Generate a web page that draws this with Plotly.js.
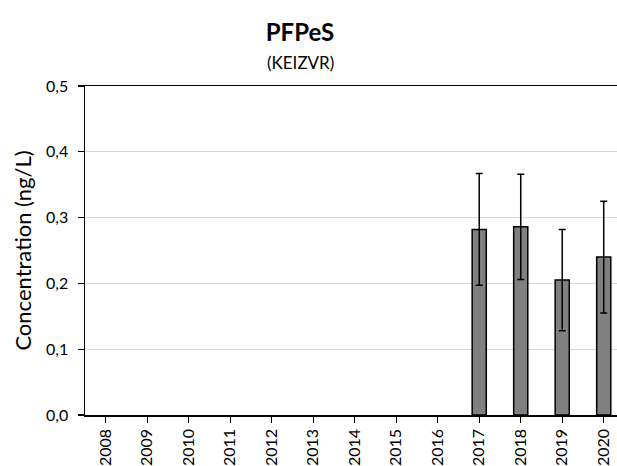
<!DOCTYPE html>
<html>
<head>
<meta charset="utf-8">
<script src="https://cdn.plot.ly/plotly-3.0.1.min.js"></script>
<style>html,body{margin:0;padding:0;background:#fff;}#chart{width:617px;height:466px;}</style>
</head>
<body>
<div id="chart"></div>
<script>
const years = ['2008','2009','2010','2011','2012','2013','2014','2015','2016','2017','2018','2019','2020'];
const values = [null,null,null,null,null,null,null,null,null,0.282,0.286,0.205,0.240];
const errors = [null,null,null,null,null,null,null,null,null,0.085,0.080,0.077,0.085];
const yTicks = [0,0.1,0.2,0.3,0.4,0.5];

const font = 'Lato, Carlito, Calibri, "Liberation Sans", sans-serif';

const trace = {
  type: 'bar',
  x: years,
  y: values,
  width: 0.34,
  marker: {color: '#808080', line: {color: '#000000', width: 1.5}},
  error_y: {type: 'data', array: errors, visible: true, color: '#000000', thickness: 1.5, width: 3.5},
  hoverinfo: 'none'
};

const layout = {
  width: 617, height: 466,
  paper_bgcolor: '#ffffff', plot_bgcolor: '#ffffff',
  margin: {l: 85, r: 0, t: 86, b: 51, pad: 0},
  separators: ', ',
  font: {family: font, color: '#000000'},
  showlegend: false,
  title: {text: '<b>PFPeS</b>', x: 300/617, xref: 'container', xanchor: 'center', y: 1 - 33/466, yref: 'container', yanchor: 'middle', font: {size: 24, family: font, color: '#000'}},
  annotations: [{text: '(KEIZVR)', xref: 'paper', yref: 'paper', x: (300-85)/532, y: 1 + (86-62)/329, xanchor: 'center', yanchor: 'middle', showarrow: false, font: {size: 17, family: font, color: '#000'}}],
  xaxis: {
    type: 'category', range: [-0.5, 12.32], categoryarray: years,
    showline: true, linecolor: '#000', linewidth: 1.5, mirror: true,
    ticks: 'outside', ticklen: 6, tickcolor: '#000', tickwidth: 1.2,
    tickangle: -90, tickfont: {size: 16, family: font, color: '#000'},
    showgrid: false, zeroline: false
  },
  yaxis: {
    range: [0, 0.5], tickvals: yTicks, tickformat: '.1f',
    showline: true, linecolor: '#000', linewidth: 1.5,
    ticks: 'outside', ticklen: 6, tickcolor: '#000', tickwidth: 1.2,
    ticklabelstandoff: 6,
    tickfont: {size: 16, family: font, color: '#000'},
    showgrid: true, gridcolor: '#d9d9d9', gridwidth: 1, zeroline: false,
    title: {text: 'Concentration (ng/L)', font: {size: 22, family: font, color: '#000'}, standoff: 8}
  }
};

Plotly.newPlot('chart', [trace], layout, {staticPlot: true, displayModeBar: false});
</script>
</body>
</html>
